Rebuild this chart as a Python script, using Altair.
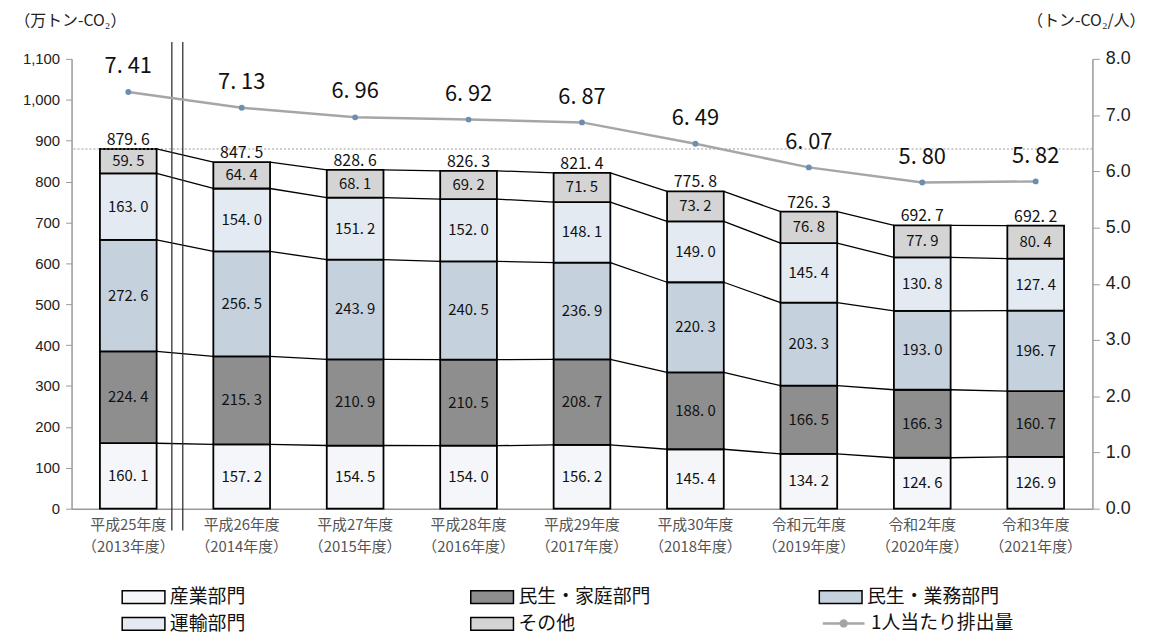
import altair as alt
import pandas as pd

years = ["平成25年度|（2013年度）", "平成26年度|（2014年度）", "平成27年度|（2015年度）",
         "平成28年度|（2016年度）", "平成29年度|（2017年度）", "平成30年度|（2018年度）",
         "令和元年度|（2019年度）", "令和2年度|（2020年度）", "令和3年度|（2021年度）"]
sangyo = [160.1, 157.2, 154.5, 154.0, 156.2, 145.4, 134.2, 124.6, 126.9]
katei = [224.4, 215.3, 210.9, 210.5, 208.7, 188.0, 166.5, 166.3, 160.7]
gyomu = [272.6, 256.5, 243.9, 240.5, 236.9, 220.3, 203.3, 193.0, 196.7]
unyu = [163.0, 154.0, 151.2, 152.0, 148.1, 149.0, 145.4, 130.8, 127.4]
sonota = [59.5, 64.4, 68.1, 69.2, 71.5, 73.2, 76.8, 77.9, 80.4]
totals = [879.6, 847.5, 828.6, 826.3, 821.4, 775.8, 726.3, 692.7, 692.2]
per_capita = [7.41, 7.13, 6.96, 6.92, 6.87, 6.49, 6.07, 5.80, 5.82]

sectors = ["産業部門", "民生・家庭部門", "民生・業務部門", "運輸部門", "その他"]
series = [sangyo, katei, gyomu, unyu, sonota]
sector_colors = {"産業部門": "#f4f6f9", "民生・家庭部門": "#8e8e8e", "民生・業務部門": "#c6d1de",
                 "運輸部門": "#e4eaf1", "その他": "#d4d4d4"}
# legend order (legend grid is filled column by column)
legend_order = ["産業部門", "運輸部門", "民生・家庭部門", "その他", "民生・業務部門"]
line_name = "1人当たり排出量"

# stacked segments
seg_rows = []
tops = {}
for i, yr in enumerate(years):
    lo = 0.0
    for s, vals in zip(sectors, series):
        hi = lo + vals[i]
        seg_rows.append({"year": yr, "sector": s, "lo": lo, "hi": hi,
                         "mid": (lo + hi) / 2, "v": vals[i]})
        tops[(i, s)] = hi
        lo = hi
seg = pd.DataFrame(seg_rows)

con_rows = []
for i in range(len(years) - 1):
    for s in sectors:
        con_rows.append({"year": years[i], "year2": years[i + 1],
                         "a": tops[(i, s)], "b": tops[(i + 1, s)]})
con = pd.DataFrame(con_rows)

tot = pd.DataFrame({"year": years, "total": totals})
pc = pd.DataFrame({"year": years, "v": per_capita, "series": line_name})

FONT = "Noto Sans CJK JP"
ydom = alt.Scale(domain=[0, 1100], nice=False)
rdom = alt.Scale(domain=[0, 8], nice=False)

left_axis = alt.Axis(title="（万トン-CO₂）", titleAngle=0, titleAlign="left",
                     titleX=-58, titleY=-39, titleBaseline="middle",
                     titleFontSize=16, titleFont=FONT, titleFontWeight="normal",
                     titleColor="#222",
                     values=list(range(0, 1101, 100)), format=",.0f",
                     labelFontSize=15, labelColor="#222", labelFont="Liberation Sans",
                     domainColor="#999", domainWidth=1.5, tickColor="#999",
                     tickSize=6, labelPadding=6, grid=False)
right_axis = alt.Axis(orient="right", title="（トン-CO₂/人）", titleAngle=0,
                      titleAlign="left", titleX=-66, titleY=-39,
                      titleBaseline="middle", titleFontSize=16, titleFont=FONT,
                      titleFontWeight="normal", titleColor="#222",
                      values=list(range(0, 9)), format=".1f",
                      labelFontSize=18, labelColor="#222", labelFont="Liberation Sans",
                      domainColor="#999", domainWidth=1.5, tickColor="#999",
                      tickSize=7, labelPadding=6, grid=False)

xenc = alt.X("year:N", sort=years,
             scale=alt.Scale(paddingInner=0.5, paddingOuter=0.25),
             axis=alt.Axis(title=None, labelExpr="split(datum.label,'|')", labelAngle=0,
                           ticks=False, domainColor="#999", domainWidth=1.5,
                           labelFontSize=15, labelColor="#555", labelPadding=9,
                           labelLineHeight=22, labelFont=FONT))

bars = alt.Chart(seg).mark_bar(stroke="black", strokeWidth=1.8).encode(
    x=xenc,
    y=alt.Y("lo:Q", scale=ydom, axis=left_axis),
    y2="hi:Q",
    fill=alt.Fill("sector:N",
                  scale=alt.Scale(domain=legend_order,
                                  range=[sector_colors[s] for s in legend_order]),
                  legend=alt.Legend(title=None, orient="none", legendX=50, legendY=531,
                                    columns=3, gridAlign="all", columnPadding=166,
                                    rowPadding=6, symbolSize=400, labelOffset=27,
                                    symbolType="M-1,-0.65H3.3V0.65H-1Z",
                                    symbolStrokeColor="black", symbolStrokeWidth=1.5,
                                    symbolOpacity=1,
                                    labelFontSize=19, labelFont=FONT, labelColor="#111",
                                    padding=0, labelLimit=300)),
)

connectors = alt.Chart(con).mark_rule(color="black", strokeWidth=1.3,
                                      xOffset=28.5, x2Offset=-28.5).encode(
    x=alt.X("year:N", sort=years),
    x2="year2:N",
    y=alt.Y("a:Q", scale=ydom, axis=left_axis),
    y2="b:Q",
)

seg_labels = alt.Chart(seg).transform_calculate(
    label="replace(format(datum.v, '.1f'), '.', '. ')"
).mark_text(fontSize=15, font=FONT, color="#111", baseline="middle").encode(
    x=alt.X("year:N", sort=years),
    y=alt.Y("mid:Q", scale=ydom, axis=left_axis),
    text="label:N",
)

tot_labels = alt.Chart(tot).transform_calculate(
    label="replace(format(datum.total, '.1f'), '.', '. ')"
).mark_text(fontSize=16, font=FONT, color="#111", baseline="bottom", dy=-1).encode(
    x=alt.X("year:N", sort=years),
    y=alt.Y("total:Q", scale=ydom, axis=left_axis),
    text="label:N",
)

dotted = alt.Chart(tot.head(1)).mark_rule(color="#999", strokeDash=[2, 2], strokeWidth=1).encode(
    y=alt.Y("total:Q", scale=ydom, axis=left_axis),
)

vline1 = alt.Chart(tot.head(1)).mark_rule(color="#333", strokeWidth=1.3).encode(
    x=alt.value(101), y=alt.value(-17), y2=alt.value(475))
vline2 = alt.Chart(tot.head(1)).mark_rule(color="#333", strokeWidth=1.3).encode(
    x=alt.value(112), y=alt.value(-17), y2=alt.value(475))

left = alt.layer(bars, dotted, connectors, seg_labels, tot_labels, vline1, vline2)

line = alt.Chart(pc).mark_line(strokeWidth=2.5).encode(
    x=alt.X("year:N", sort=years),
    y=alt.Y("v:Q", scale=rdom, axis=right_axis),
    stroke=alt.Stroke("series:N", scale=alt.Scale(domain=[line_name], range=["#a6a6a6"]),
                      legend=alt.Legend(title=None, orient="none", legendX=766, legendY=557,
                                        symbolSize=400, labelOffset=16,
                                        symbolType="M-2.1,0H2.1M-0.3,0a0.3,0.3 0 1,0 0.6,0a0.3,0.3 0 1,0 -0.6,0",
                                        symbolStrokeWidth=2.5, symbolFillColor="#6f8db0",
                                        symbolOpacity=1,
                                        labelFontSize=19, labelFont=FONT, labelColor="#111",
                                        padding=0, labelLimit=300)),
)
points = alt.Chart(pc).mark_circle(size=35, color="#6f8db0", opacity=1).encode(
    x=alt.X("year:N", sort=years),
    y=alt.Y("v:Q", scale=rdom, axis=right_axis),
)
pc_labels = alt.Chart(pc).transform_calculate(
    label="replace(format(datum.v, '.2f'), '.', '. ')"
).mark_text(fontSize=22, font=FONT, color="#111", dy=-26).encode(
    x=alt.X("year:N", sort=years),
    y=alt.Y("v:Q", scale=rdom, axis=right_axis),
    text="label:N",
)
right = alt.layer(line, points, pc_labels)

chart = alt.layer(left, right).resolve_scale(y="independent").properties(
    width=1028, height=453,
    autosize=alt.AutoSizeParams(type="none"),
    padding={"left": 64, "top": 49, "right": 59, "bottom": 129},
).configure_view(stroke=None).configure_axis(grid=False)

chart.save("out.html", embed_options={"renderer": "svg", "actions": False})
